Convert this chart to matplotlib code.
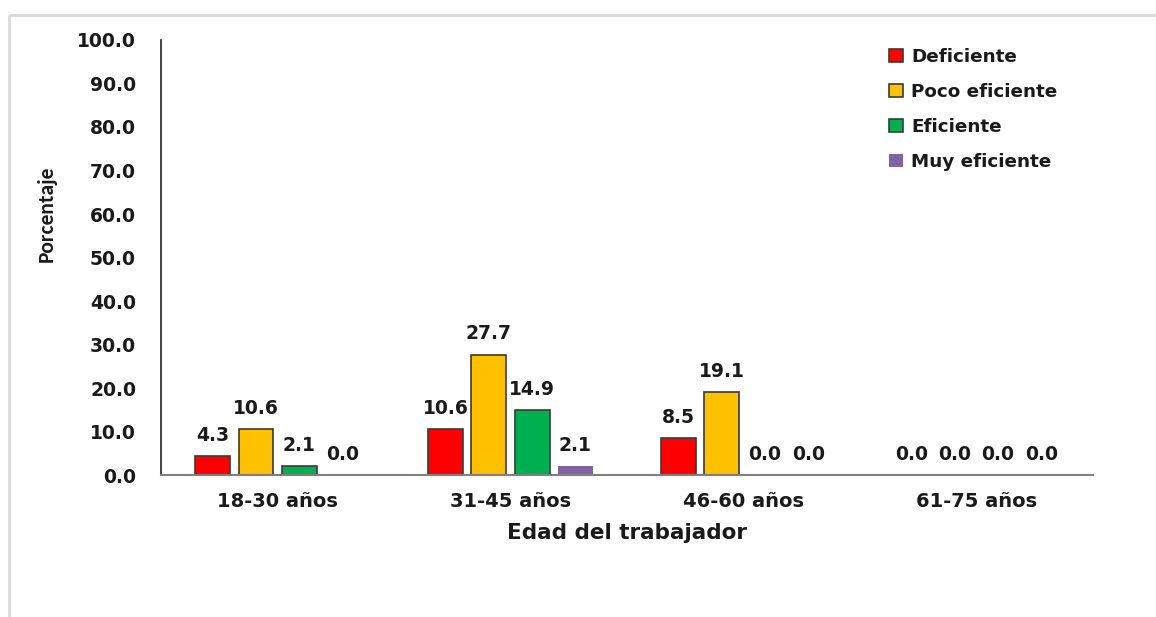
import numpy as np
import matplotlib.pyplot as plt
from matplotlib.lines import Line2D

# age groups and percentage per efficiency level
age_groups = ["18-30 años", "31-45 años", "46-60 años", "61-75 años"]
levels = ["Deficiente", "Poco eficiente", "Eficiente", "Muy eficiente"]
deficiente = [4.3, 10.6, 8.5, 0.0]
poco_eficiente = [10.6, 27.7, 19.1, 0.0]
eficiente = [2.1, 14.9, 0.0, 0.0]
muy_eficiente = [0.0, 2.1, 0.0, 0.0]
y_ticks = [0, 10, 20, 30, 40, 50, 60, 70, 80, 90, 100]

series = [deficiente, poco_eficiente, eficiente, muy_eficiente]
colors = ["#FF0000", "#FFC000", "#00B050", "#8064A2"]
edges = ["#3a3a3a", "#3a3a3a", "#3a3a3a", "none"]

plt.rcParams["font.family"] = "DejaVu Sans"
TXT = "#1a1a1a"

fig = plt.figure(figsize=(11.56, 6.17), dpi=100)
ax = fig.add_axes([0.1393, 0.2301, 0.8062, 0.7051])

x = np.arange(len(age_groups)) + 0.5
width = 0.15
step = 0.185
for i, (vals, col, ec, lab) in enumerate(zip(series, colors, edges, levels)):
    pos = x + (i - 1.5) * step
    ax.bar(pos, vals, width, color=col, edgecolor=ec, linewidth=1.2, label=lab)
    for px, v in zip(pos, vals):
        ax.annotate(f"{v:.1f}", (px, v), xytext=(0, 8), textcoords="offset points",
                    ha="center", va="bottom", fontsize=13.5, fontweight="bold",
                    color=TXT)

ax.set_xlim(0, len(age_groups))
ax.set_ylim(0, 100)
ax.set_yticks(y_ticks)
ax.set_yticklabels([f"{t:.1f}" for t in y_ticks], fontsize=13.5,
                   fontweight="bold", color=TXT)
ax.set_xticks(x)
ax.set_xticklabels(age_groups, fontsize=14, fontweight="bold", color=TXT)
ax.tick_params(length=0)
ax.tick_params(axis="x", pad=12)
ax.tick_params(axis="y", pad=18)

for s in ["top", "right"]:
    ax.spines[s].set_visible(False)
ax.spines["left"].set_color("#222222")
ax.spines["bottom"].set_color("#7f7f7f")
ax.spines["left"].set_linewidth(1.2)
ax.spines["bottom"].set_linewidth(1.5)

ax.set_xlabel("Edad del trabajador", fontsize=15.5, fontweight="bold",
              color=TXT, labelpad=9)
fig.text(47 / 1156, 1 - 214 / 617, "Porcentaje", rotation=90, ha="center",
         va="center", fontsize=15.5, fontweight="bold",
         family=["Carlito", "Liberation Sans"], color=TXT)

leg = ax.legend(loc="upper left", bbox_to_anchor=(0.781, 0.982), frameon=False,
                fontsize=13.2, handlelength=0.75, handleheight=0.75,
                handletextpad=0.45, labelspacing=0.93, borderpad=0,
                borderaxespad=0)
for t in leg.get_texts():
    t.set_fontweight("bold")
    t.set_color(TXT)

# light gray frame around the chart area
fig.add_artist(Line2D([9 / 1156, 1], [1 - 15 / 617] * 2, color="#d9d9d9",
                      linewidth=2, solid_capstyle="butt",
                      transform=fig.transFigure))
fig.add_artist(Line2D([9 / 1156] * 2, [0, 1 - 15 / 617], color="#d9d9d9",
                      linewidth=2, solid_capstyle="butt",
                      transform=fig.transFigure))

fig.savefig("out.png", dpi=100, facecolor="white")
